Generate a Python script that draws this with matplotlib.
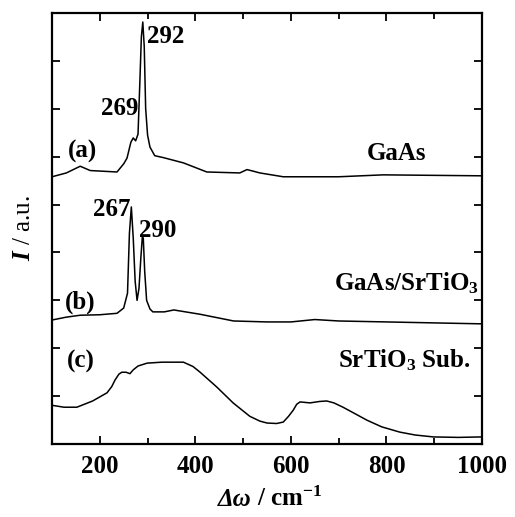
import matplotlib
matplotlib.use('Agg')
import matplotlib.pyplot as plt
from matplotlib.ticker import MultipleLocator, NullFormatter

plt.rcParams['font.family'] = 'Liberation Serif'
plt.rcParams['font.weight'] = 'bold'
plt.rcParams['mathtext.fontset'] = 'custom'
plt.rcParams['mathtext.rm'] = 'Liberation Serif:bold'
plt.rcParams['mathtext.bf'] = 'Liberation Serif:bold'
plt.rcParams['mathtext.it'] = 'Liberation Serif:italic:bold'

# curve (a): GaAs
xa = [100, 130, 159, 180, 236, 250, 257, 265, 270, 275, 280, 284, 287, 290, 293,
      296, 300, 305, 315, 333, 375, 424, 493, 508, 520, 535, 584, 700, 793, 1000]
ya = [5.58, 5.66, 5.80, 5.71, 5.68, 5.85, 5.97, 6.30, 6.39, 6.33, 6.47, 7.6, 8.5,
      8.81, 8.3, 7.0, 6.45, 6.2, 6.02, 5.98, 5.87, 5.68, 5.66, 5.73, 5.70, 5.66,
      5.58, 5.58, 5.62, 5.60]

# curve (b): GaAs/SrTiO3
xb = [100, 130, 159, 200, 236, 250, 258, 262, 266, 270, 274, 278, 282, 286, 289,
      291, 294, 298, 305, 311, 335, 355, 410, 480, 550, 600, 650, 700, 1000]
yb = [2.59, 2.65, 2.69, 2.70, 2.73, 2.84, 3.15, 4.4, 4.95, 4.3, 3.4, 3.0, 3.25,
      3.9, 4.32, 4.3, 3.6, 3.0, 2.82, 2.76, 2.76, 2.80, 2.71, 2.57, 2.55, 2.55,
      2.60, 2.57, 2.51]

# curve (c): SrTiO3 substrate
xc = [100, 125, 152, 185, 215, 225, 232, 240, 246, 255, 263, 270, 280, 299, 330,
      375, 395, 410, 445, 479, 514, 535, 550, 570, 584, 595, 605, 612, 619, 630,
      640, 660, 675, 690, 709, 735, 759, 790, 828, 860, 898, 950, 1000]
yc = [0.81, 0.77, 0.77, 0.90, 1.07, 1.20, 1.34, 1.46, 1.50, 1.50, 1.47, 1.55,
      1.63, 1.69, 1.71, 1.71, 1.62, 1.50, 1.19, 0.86, 0.58, 0.48, 0.44, 0.43, 0.46,
      0.58, 0.71, 0.83, 0.88, 0.87, 0.86, 0.89, 0.90, 0.86, 0.77, 0.63, 0.50, 0.36,
      0.25, 0.19, 0.15, 0.14, 0.15]

fig = plt.figure(figsize=(5.15, 5.17), dpi=100)
ax = fig.add_axes([0.101, 0.141, 0.835, 0.834])

for xs, ys in [(xa, ya), (xb, yb), (xc, yc)]:
    ax.plot(xs, ys, color='black', lw=1.1)

ax.set_xlim(100, 1000)
ax.set_ylim(0, 9)

ax.xaxis.set_major_locator(MultipleLocator(200))
ax.xaxis.set_minor_locator(MultipleLocator(100))
ax.yaxis.set_major_locator(MultipleLocator(1))
ax.yaxis.set_major_formatter(NullFormatter())
ax.tick_params(axis='both', which='both', direction='in', top=True, right=True,
               width=1.3)
ax.tick_params(axis='both', which='major', length=6, labelsize=18, pad=8)
ax.tick_params(axis='x', which='minor', length=4)
for sp in ax.spines.values():
    sp.set_linewidth(1.6)

fs = 18
ax.text(299, 8.5, '292', fontsize=fs, ha='left', va='center')
ax.text(242, 7.0, '269', fontsize=fs, ha='center', va='center')
ax.text(163, 6.1, '(a)', fontsize=fs, ha='center', va='center')
ax.text(822, 6.07, 'GaAs', fontsize=fs, ha='center', va='center')

ax.text(226, 4.9, '267', fontsize=fs, ha='center', va='center')
ax.text(322, 4.45, '290', fontsize=fs, ha='center', va='center')
ax.text(160, 2.95, '(b)', fontsize=fs, ha='center', va='center')
ax.text(843, 3.36, r'GaAs/SrTiO$_3$', fontsize=fs, ha='center', va='center')

ax.text(160, 1.72, '(c)', fontsize=fs, ha='center', va='center')
ax.text(837, 1.76, r'SrTiO$_3$ Sub.', fontsize=fs, ha='center', va='center')

# x label in two pieces so the Greek part is italic
fig.text(0.488, 0.022, 'Δω', fontsize=18, fontstyle='italic', ha='right', va='baseline')
fig.text(0.488, 0.022, r' / cm$^{-1}$', fontsize=18, ha='left', va='baseline')
ax.set_ylabel(r'$\mathit{I}$ / a.u.', fontsize=18, labelpad=4)

fig.savefig('out.png', dpi=100)
